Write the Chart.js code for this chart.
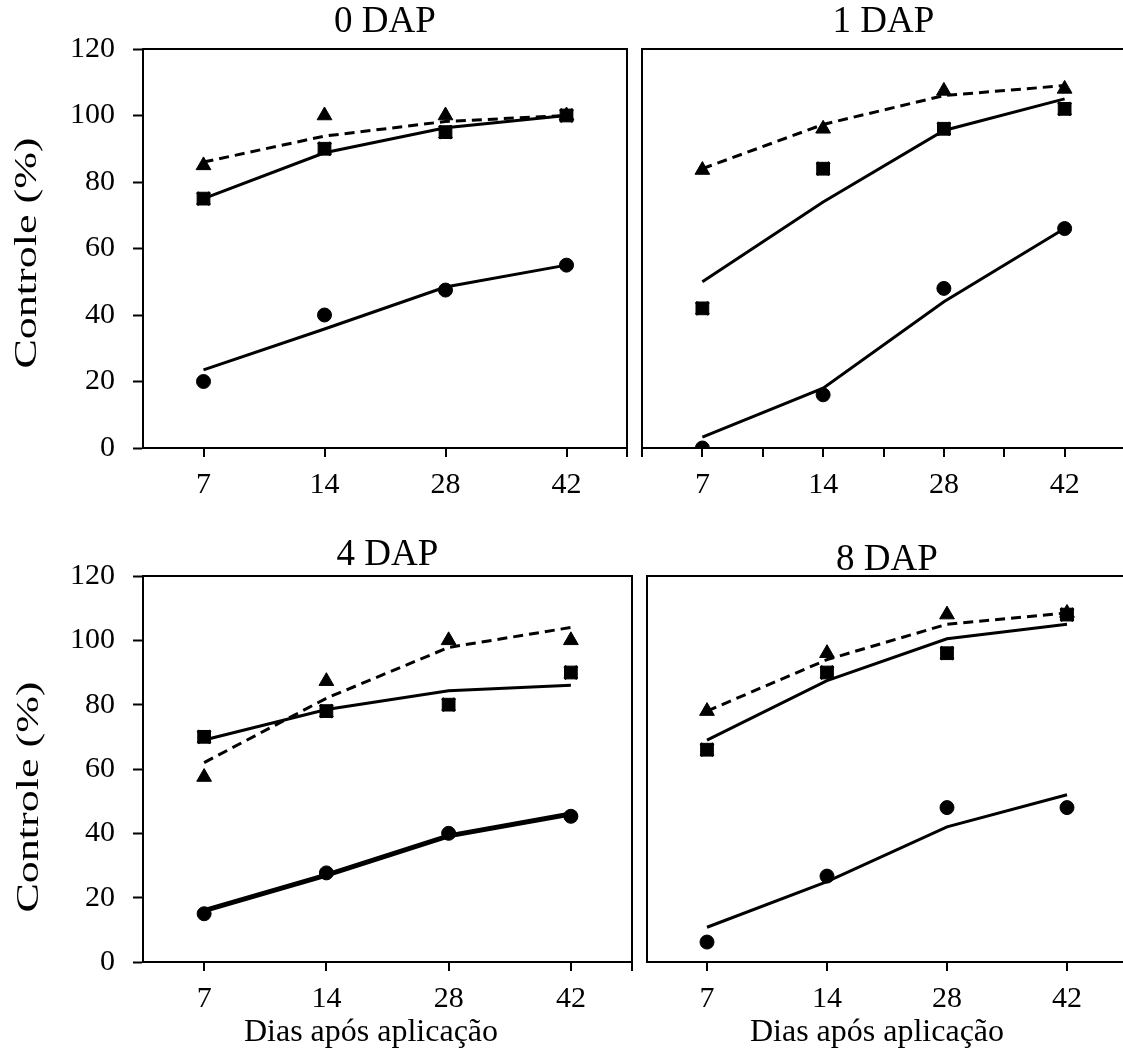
<!DOCTYPE html>
<html><head><meta charset="utf-8">
<script src="https://cdn.jsdelivr.net/npm/chart.js@4/dist/chart.umd.min.js"></script>
<style>
html,body{margin:0;padding:0;background:#fff;overflow:hidden;width:1123px;height:1049px;position:relative;}
canvas{position:absolute;}
</style></head><body>
<canvas id="p0"></canvas>
<canvas id="p1"></canvas>
<canvas id="p2"></canvas>
<canvas id="p3"></canvas>
<script>
// ---------- data ----------
const days = ['7', '14', '28', '42'];
const panelTitles = ['0 DAP', '1 DAP', '4 DAP', '8 DAP'];
const yAxisTitle = 'Controle (%)';
const xAxisTitle = 'Dias após aplicação';

// 0 DAP
const tri0    = [85, 100, 100, 100];
const triFit0 = [86, 93.8, 98.2, 100];
const sq0     = [75, 90, 95, 100];
const cross0  = [75, 90, 95, 100];
const sqFit0  = [75, 88.8, 96.3, 100];
const cir0    = [20, 40, 47.5, 55];
const cirFit0 = [23.5, 35.8, 48.4, 55];

// 1 DAP
const tri1    = [83.6, 96, 107.4, 108];
const triFit1 = [84, 97.3, 106, 109];
const sq1     = [42, 84, 96, 102];
const cross1  = [42, 84, 96, 102];
const sqFit1  = [50, 74, 95.5, 105];
const cir1    = [0, 16, 48, 66];
const cirFit1 = [3.3, 18, 44, 66];

// 4 DAP
const tri4    = [57.5, 87.3, 100, 100];
const triFit4 = [62, 82, 97.8, 104];
const sq4     = [70, 78, 80, 90];
const cross4  = [70, 78, 80, 90];
const sqFit4  = [69, 78.5, 84.3, 86];
const cir4    = [15, 27.7, 40, 45.3];
const cirFit4 = [16, 27, 39.2, 46];

// 8 DAP
const tri8    = [78, 96, 108, 108.5];
const triFit8 = [78, 94, 105, 108.5];
const sq8     = [66, 90, 96, 108];
const cross8  = [66, 90, 96, 108];
const sqFit8  = [69, 87.5, 100.5, 105];
const cir8    = [6.2, 26.7, 48, 48];
const cirFit8 = [10.8, 25, 42, 52];

// ---------- drawing ----------
const FONT = "'Liberation Serif','Times New Roman',serif";
const pts = arr => arr.map((v, i) => ({ x: i + 1, y: v }));
const tickVals = [0.5, 1, 1.5, 2, 2.5, 3, 3.5, 4, 4.5];

function makePanel(id, title, d, g) {
  const el = document.getElementById(id);
  el.width = g.w; el.height = g.h;
  Object.assign(el.style, { left: g.left + 'px', top: g.top + 'px', width: g.w + 'px', height: g.h + 'px' });

  const mk = { showLine: false, backgroundColor: '#000', borderColor: '#000', xAxisID: 'x', yAxisID: 'y' };
  const ln = { borderColor: '#000', borderWidth: 3, pointRadius: 0, fill: false, tension: 0, xAxisID: 'x', yAxisID: 'y' };
  const datasets = [
    Object.assign({ data: pts(d.tri), pointStyle: 'triangle', pointRadius: 8.5, borderWidth: 1 }, mk),
    Object.assign({ data: pts(d.cross), pointStyle: 'crossRot', pointRadius: 9, borderWidth: 3 }, mk),
    Object.assign({ data: pts(d.sq), pointStyle: 'rect', pointRadius: 9, borderWidth: 1 }, mk),
    Object.assign({ data: pts(d.cir), pointStyle: 'circle', pointRadius: 7, borderWidth: 1 }, mk),
    Object.assign({}, ln, { data: pts(d.triFit), borderDash: [10, 6] }),
    Object.assign({}, ln, { data: pts(d.sqFit) }),
    Object.assign({}, ln, { data: pts(d.cirFit), borderWidth: d.cirW || 3 })
  ];

  const tickFont = { family: FONT, size: 30, lineHeight: 1 };
  const ch = new Chart(el, {
    type: 'line',
    data: { datasets },
    options: {
      responsive: false, animation: false, devicePixelRatio: 1,
      layout: { padding: 0 },
      plugins: {
        legend: { display: false }, tooltip: { enabled: false },
        title: { display: g.yTitle, position: 'left', fullSize: true, text: yAxisTitle, color: '#000',
                 font: { family: FONT, size: 31, lineHeight: 1, weight: 'normal' },
                 padding: { top: g.ytPad, bottom: 0 } },
        subtitle: { display: g.xTitle, position: 'bottom', fullSize: true, text: xAxisTitle, color: '#000',
                 font: { family: FONT, size: 32, lineHeight: 1, weight: 'normal' },
                 padding: { top: 0, bottom: 15 } }
      },
      scales: {
        x: {
          type: 'linear', position: 'bottom', min: 0.5, max: 4.5,
          afterBuildTicks: s => { s.ticks = tickVals.map(v => ({ value: v })); },
          afterFit: s => { s.height = g.xh; },
          ticks: { autoSkip: false, maxRotation: 0, minRotation: 0, padding: 13, color: '#000', font: tickFont,
                   callback: v => Number.isInteger(v) ? days[v - 1] : '' },
          grid: { drawOnChartArea: false, drawTicks: true, tickLength: 9, tickWidth: 2, lineWidth: 2,
                  tickColor: c => g.tickVis(c.tick ? c.tick.value : 0) ? '#000' : 'rgba(0,0,0,0)' },
          border: { display: true, color: '#000', width: 2 }
        },
        y: {
          type: 'linear', position: 'left', min: 0, max: 120,
          afterFit: s => { s.width = g.yw; },
          ticks: { display: g.yLabels, stepSize: 20, padding: 18, color: '#000', font: tickFont },
          grid: { display: g.yLabels, drawOnChartArea: false, tickLength: 10, tickWidth: 2, tickColor: '#000' },
          border: { display: true, color: '#000', width: 2 }
        },
        x2: {
          type: 'linear', position: 'top', min: 0.5, max: 4.5,
          afterFit: s => { s.height = g.th; },
          ticks: { display: false }, grid: { display: false },
          border: { display: true, color: '#000', width: 2 },
          title: { display: true, text: title, color: '#000', font: { family: FONT, size: 37, lineHeight: 1 },
                   padding: { top: g.tPad, bottom: 0 } }
        },
        y2: {
          type: 'linear', position: 'right', min: 0, max: 120,
          afterFit: s => { s.width = g.rw; },
          ticks: { display: false }, grid: { display: false },
          border: { display: g.rightBorder, color: '#000', width: 2 }
        }
      }
    }
  });

  // the reference's vertical axis title is stretched along its length
  if (g.yTitle && ch.titleBlock) {
    const tb = ch.titleBlock;
    const orig = tb.draw.bind(tb);
    tb.draw = function (area) {
      const ctx = this.ctx;
      const cy = (this.top + this.bottom) / 2;
      ctx.save();
      ctx.translate(0, cy);
      ctx.scale(1, 1.42);
      ctx.translate(0, -cy);
      orig(area);
      ctx.restore();
    };
    ch.draw();
  }
}

const intOrEnd = v => Number.isInteger(v) || v === 4.5;
const allTicks = v => true;
const intOnly = v => Number.isInteger(v);

makePanel('p0', panelTitles[0],
  { tri: tri0, triFit: triFit0, sq: sq0, cross: cross0, sqFit: sqFit0, cir: cir0, cirFit: cirFit0 },
  { left: 0, top: 0, w: 640, h: 506, yTitle: true, ytPad: 12.5, yw: 99.5, yLabels: true, xTitle: false,
    xh: 58, th: 49, tPad: 3.5, rw: 9, rightBorder: true, tickVis: intOrEnd });

makePanel('p1', panelTitles[1],
  { tri: tri1, triFit: triFit1, sq: sq1, cross: cross1, sqFit: sqFit1, cir: cir1, cirFit: cirFit1 },
  { left: 600, top: 0, w: 540, h: 506, yTitle: false, ytPad: 0, yw: 42, yLabels: false, xTitle: false,
    xh: 58, th: 49, tPad: 3.5, rw: 15, rightBorder: false, tickVis: allTicks });

makePanel('p2', panelTitles[2],
  { tri: tri4, triFit: triFit4, sq: sq4, cross: cross4, sqFit: sqFit4, cir: cir4, cirFit: cirFit4, cirW: 5 },
  { left: 0, top: 530, w: 742, h: 534, yTitle: true, ytPad: 14.5, yw: 97.5, yLabels: true, xTitle: true,
    xh: 55, th: 46, tPad: 6.5, rw: 110, rightBorder: true, tickVis: intOrEnd });

makePanel('p3', panelTitles[3],
  { tri: tri8, triFit: triFit8, sq: sq8, cross: cross8, sqFit: sqFit8, cir: cir8, cirFit: cirFit8 },
  { left: 600, top: 530, w: 554, h: 534, yTitle: false, ytPad: 0, yw: 47, yLabels: false, xTitle: true,
    xh: 55, th: 46, tPad: 11.5, rw: 27, rightBorder: false, tickVis: intOnly });
</script>
</body></html>
